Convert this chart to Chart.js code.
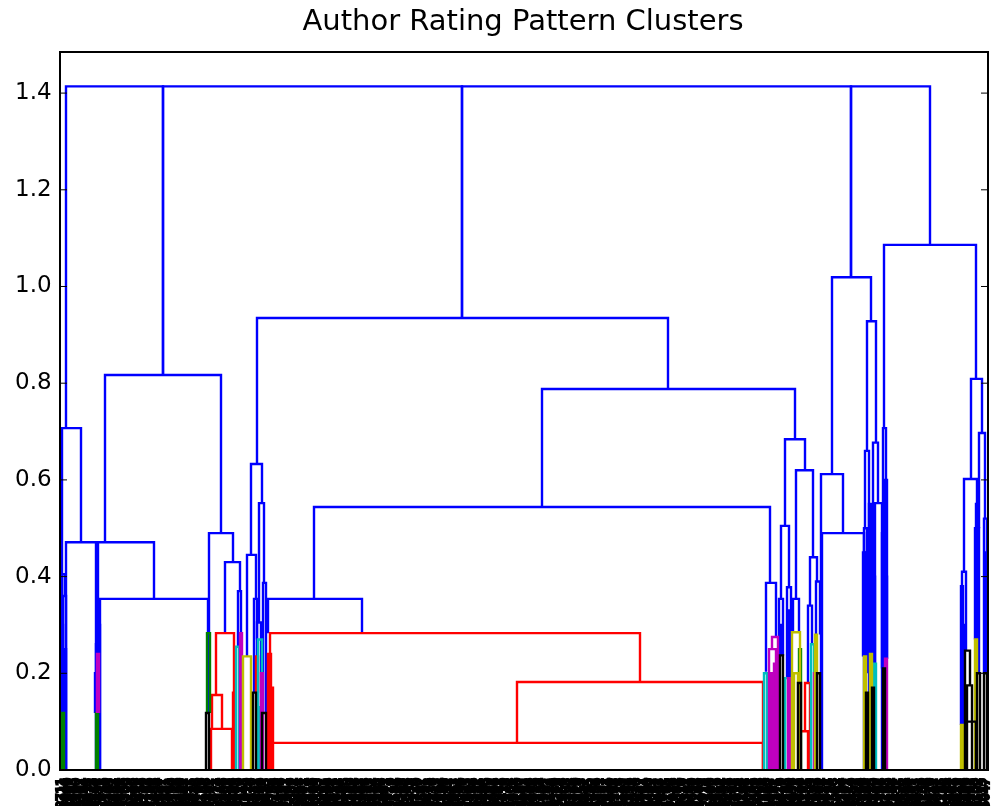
<!DOCTYPE html>
<html><head><meta charset="utf-8">
<script src="https://cdn.jsdelivr.net/npm/chart.js@4.4.1/dist/chart.umd.min.js"></script>
<style>html,body{margin:0;padding:0;background:#fff;}canvas{display:block;}</style>
</head><body>
<canvas id="c" width="996" height="806"></canvas>
<script>
const chartTitle = "Author Rating Pattern Clusters";
const yTickLabels = ["0.0","0.2","0.4","0.6","0.8","1.0","1.2","1.4"];
const xSpan = 928;   // dendrogram leaf-axis extent (icoord units)
const yMax = 1.485;

// each link: [left leg x, right leg x, merge height, left leg bottom, right leg bottom]
const blueLinks = [
  [6,103,1.414,0.707,0.817],[103,402,1.414,0.817,0.935],[402,791,1.414,0.935,1.019],[791,870,1.414,1.019,1.086],
  [2,21,0.707,0.0,0.471],[6,36,0.471,0.0,0.0],[38,94,0.471,0.0,0.354],[45,161,0.817,0.471,0.490],
  [40,148,0.354,0.0,0.118],[2,5,0.405,0.118,0.36],[3,6,0.36,0.0,0.0],[36,39,0.26,0.118,0.24],
  [1,3,0.3,0.0,0.0],[4,6,0.25,0.0,0.0],[35,37,0.2,0.118,0.0],[38,40,0.3,0.0,0.0],
  [149,173,0.490,0.118,0.430],[165,180,0.430,0.283,0.37],[178,181,0.37,0.255,0.283],
  [197,608,0.935,0.633,0.788],[191,202,0.633,0.445,0.552],[187,196,0.445,0.235,0.354],[194,197,0.354,0.16,0.235],
  [199,204,0.552,0.305,0.387],[197,201,0.305,0.27,0.13],[203,206,0.387,0.118,0.118],
  [482,735,0.788,0.544,0.684],[254,710,0.544,0.354,0.387],[208,302,0.354,0.283,0.283],
  [725,745,0.684,0.505,0.620],[706,716,0.387,0.203,0.275],[721,729,0.505,0.354,0.378],[719,723,0.354,0.237,0.237],
  [727,731,0.378,0.19,0.19],[733,739,0.354,0.285,0.285],[736,753,0.620,0.354,0.44],[750,757,0.44,0.34,0.39],
  [748,752,0.34,0.18,0.26],[756,760,0.39,0.2,0.28],[720,722,0.3,0.237,0.237],[728,730,0.33,0.19,0.19],
  [772,811,1.019,0.612,0.928],[761,783,0.612,0.0,0.490],[762,804,0.490,0.0,0.0],
  [807,816,0.928,0.660,0.677],[805,809,0.660,0.5,0.45],[804,807,0.5,0.235,0.3],[806,809,0.45,0.3,0.16],
  [803,805,0.45,0.235,0.3],[805,807,0.4,0.16,0.3],[807,810,0.38,0.2,0.24],[809,811,0.55,0.24,0.3],
  [813,818,0.677,0.4,0.552],[811,815,0.4,0.24,0.22],[815,822,0.552,0.0,0.0],[812,814,0.5,0.17,0.22],
  [824,916,1.086,0.707,0.809],[823,826,0.707,0.21,0.4],[824,827,0.4,0.21,0.23],
  [825,827,0.6,0.21,0.23],[822,824,0.49,0.21,0.21],
  [911,922,0.809,0.602,0.697],[904,917,0.602,0.41,0.23],[902,906,0.41,0.093,0.247],
  [901,903,0.38,0.093,0.093],[903,905,0.3,0.1,0.247],
  [915,919,0.5,0.27,0.2],[919,925,0.697,0.5,0.52],[924,927,0.52,0.2,0.28],
  [916,918,0.55,0.27,0.23],[925,927,0.45,0.2,0.2],[926,928,0.3,0.2,0.2]
];
const greenLinks = [
  [2,4,0.118,0.0,0.0],[36,38,0.118,0.0,0.0],[147,150,0.283,0.118,0.118],[739,741,0.25,0.0,0.0]
];
const redLinks = [
  [156,174,0.283,0.155,0.0],[152,162,0.155,0.085,0.085],[151,172,0.085,0.0,0.0],[173,175,0.16,0.0,0.0],
  [210,580,0.283,0.0,0.182],[457,703,0.182,0.056,0.0],[212,703,0.056,0.0,0.0],
  [208,211,0.24,0.0,0.0],[209,213,0.17,0.0,0.0],[196,198,0.235,0.16,0.16],
  [745,750,0.18,0.08,0.0],[740,748,0.08,0.0,0.0]
];
const cyanLinks = [
  [176,179,0.255,0.0,0.0],[198,202,0.27,0.13,0.0],[197,199,0.13,0.0,0.0],[704,707,0.2,0.0,0.0],
  [725,728,0.19,0.0,0.0],[751,754,0.26,0.0,0.0],[814,816,0.22,0.0,0.0]
];
const magentaLinks = [
  [37,39,0.24,0.118,0.118],[180,182,0.283,0.0,0.0],[201,203,0.2,0.0,0.0],[709,716,0.25,0.0,0.0],
  [712,718,0.275,0.25,0.0],[710,714,0.15,0.0,0.0],[711,713,0.2,0.0,0.0],[714,716,0.22,0.0,0.0],
  [728,730,0.19,0.0,0.0],[754,756,0.2,0.0,0.0],[825,827,0.23,0.0,0.0]
];
const yellowLinks = [
  [183,191,0.235,0.0,0.0],[732,740,0.285,0.0,0.0],[734,738,0.2,0.0,0.0],[755,757,0.28,0.0,0.0],
  [804,806,0.235,0.0,0.0],[810,812,0.24,0.0,0.0],[901,903,0.093,0.0,0.0],[915,917,0.27,0.0,0.0]
];
const blackLinks = [
  [146,149,0.118,0.0,0.0],[193,196,0.16,0.0,0.0],[202,206,0.118,0.0,0.0],[720,723,0.237,0.0,0.0],
  [738,741,0.18,0.0,0.0],[757,760,0.2,0.0,0.0],[806,808,0.16,0.0,0.0],[812,814,0.17,0.0,0.0],
  [823,825,0.21,0.0,0.0],[905,910,0.247,0.0,0.175],[907,912,0.175,0.1,0.0],[907,916,0.1,0.0,0.0],
  [917,920,0.2,0.0,0.0],[924,927,0.2,0.0,0.0]
];
const leafLabels = [
"208711","153046","371529","094823","562190","418307","730264","286915","649072","115843",
"903457","327618","584130","046295","771382","239504","612847","498360","857129","130576",
"365908","724613","081239","546782","917350","203486","679124","354867","802531","467093",
"128750","593216","740389","381642","056917","824075","269438","615790","432159","978206",
"147362","503871","860524","295147","631809","072483","789256","418693","956120","237845",
"684019","301576","845932","512687","163240","729815","490362","036758","871493","254106",
"607831","942567","185309","368924","713058","529641","096274","834712","451089","276353",
"658917","013485","799246","342871","580632","924105","167498","436720","805369","219654",
"673182","058947","941376","387205","526814","110593","762438","495061","830927","243719",
"617584","982340","079215","354698","701853","468126","195740","843567","526091","310478",
"759236","084615","932704","271849","648352","405917","817063","152684","596230","367825",
"024591","881346","539172","176805","720468","463259","908631","245086","681947","357410",
"814275","092768","563924","739180","416537","285093","957346","130862","674219","502784",
"331907","786142","219473","654380","098215","472956","845103","163728","590364","707219",
"248653","936417","381095","617842","054376","823591","469207","192834","735460","508193",
"964728","273145","640891","117356","852674","396028","581437","029764","748310","415692",
"683257","156903","927481","304765","569128","842036","071594","436819","795342","260187",
"913650","347218","628405","085973","752146","491380","136827","874519","302694","569031",
"218476","947103","663825","025748","789461","354092","816237","473659","140986","597314",
"731568","284907","658142","092375","826419","415783","179260","943056","367921","520648",
"804172","139485","686203","251937","574860","918324","043671","762195","397548","615082",
"288734","951267","470813","106459","833592","362048","597816","024183","749025","186370",
"652901","315746","878263","433109","067584","791432","246875","519368","985014","128697",
"670453","394821","857130","213596","546079","781342","039867","462715","925408","173284",
"608957","351620","889473","247106","516839","794251","061738","438592","972615","285047"
];

const groups = [
  [blackLinks,'#000000'],[yellowLinks,'#bfbf00'],[magentaLinks,'#bf00bf'],[cyanLinks,'#00bfbf'],
  [greenLinks,'#008000'],[redLinks,'#ff0000'],[blueLinks,'#0000ff']
];
const datasets = [];
groups.forEach(([links, color]) => links.forEach(([xl, xr, h, bl, br]) => datasets.push({
  data: [{x: xl, y: bl}, {x: xl, y: h}, {x: xr, y: h}, {x: xr, y: br}],
  borderColor: color, backgroundColor: color, borderWidth: 2.4, showLine: true,
  pointRadius: 0, pointHoverRadius: 0, fill: false, tension: 0,
  xAxisID: 'x', yAxisID: 'y'
})));

const framePlugin = {
  id: 'frame',
  afterDatasetsDraw(chart) {
    const {ctx, chartArea: a, scales} = chart;
    ctx.save();
    ctx.strokeStyle = '#000';
    ctx.lineWidth = 1;
    scales.y.ticks.forEach(t => {
      const py = scales.y.getPixelForValue(t.value);
      ctx.beginPath();
      ctx.moveTo(a.left, py); ctx.lineTo(a.left + 7, py);
      ctx.moveTo(a.right - 7, py); ctx.lineTo(a.right, py);
      ctx.stroke();
    });
    ctx.lineWidth = 2;
    ctx.strokeRect(a.left, a.top, a.right - a.left, a.bottom - a.top);
    ctx.restore();
  }
};

new Chart(document.getElementById('c'), {
  type: 'scatter',
  data: { datasets },
  plugins: [framePlugin],
  options: {
    responsive: false, animation: false, devicePixelRatio: 1, events: [],
    layout: { padding: { left: 58, right: 8, top: 0, bottom: 0 } },
    plugins: {
      legend: { display: false }, tooltip: { enabled: false },
      title: { display: true, text: chartTitle, color: '#000',
        font: { family: 'DejaVu Sans', size: 29, weight: 'normal' }, padding: { top: 5, bottom: 12.2 } }
    },
    scales: {
      x: { type: 'linear', display: false, min: 0, max: xSpan },
      xl: { type: 'category', position: 'bottom', labels: leafLabels, offset: true,
        grid: { display: false, drawTicks: false }, border: { display: false },
        ticks: { autoSkip: false, maxRotation: 90, minRotation: 90, padding: 8, color: '#000',
          textStrokeColor: '#000', textStrokeWidth: 2.2,
          font: { family: 'DejaVu Sans', size: 12 } },
        afterFit: s => { s.height = 36; s.paddingLeft = 0; s.paddingRight = 0; } },
      y: { type: 'linear', min: 0, max: yMax,
        grid: { display: false, drawTicks: false }, border: { display: false },
        ticks: { mirror: true, padding: -45, color: '#000', font: { family: 'DejaVu Sans', size: 23 },
          callback: v => Number(v).toFixed(1) },
        afterBuildTicks: s => { s.ticks = yTickLabels.map(t => ({ value: Number(t) })); },
        afterFit: s => { s.width = 2; s.paddingTop = 0; s.paddingBottom = 0; } }
    }
  }
});
</script>
</body></html>
